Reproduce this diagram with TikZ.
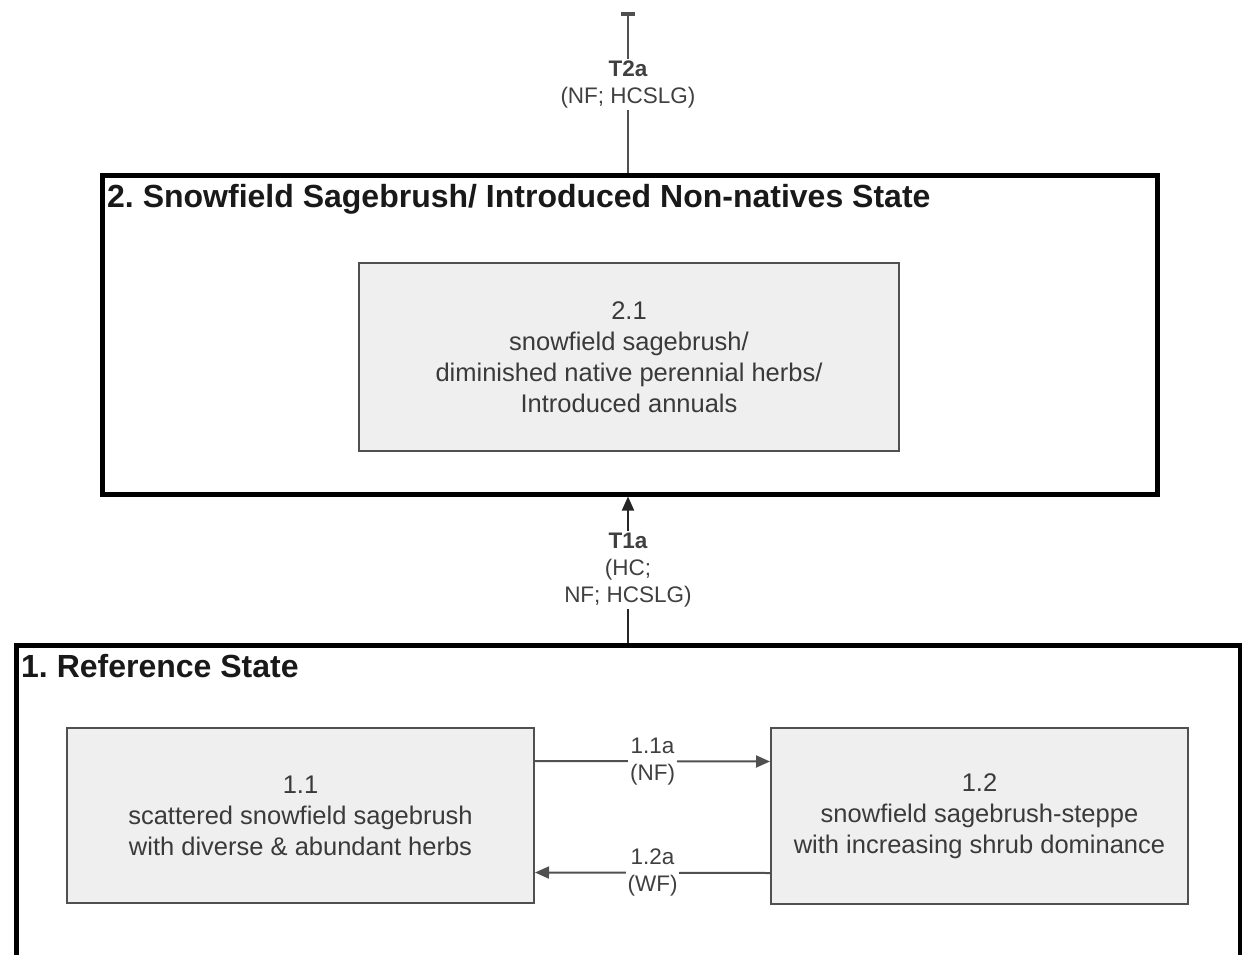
\documentclass[tikz,border=0pt]{standalone}
\usepackage{fontspec}
\setmainfont{Liberation Sans}
\usetikzlibrary{arrows.meta}
\frenchspacing
\definecolor{phasefill}{HTML}{EFEFEF}
\definecolor{phaseline}{HTML}{505050}
\definecolor{txtgray}{HTML}{3A3A3A}
\definecolor{lblgray}{HTML}{404040}
\tikzset{
  statebox/.style={draw=black, line width=4.5pt, minimum width=#1, anchor=north west, inner sep=0pt},
  phasebox/.style={draw=phaseline, fill=phasefill, line width=2pt, anchor=north west, inner sep=0pt,
     align=center, text=txtgray, font=\fontsize{25.5}{31}\selectfont},
  statetitle/.style={anchor=north west, inner sep=0pt, font=\fontsize{32}{36}\selectfont\bfseries, text=black!90},
  conn/.style={draw=phaseline, line width=2pt},
  lbl/.style={fill=white, align=center, text=lblgray, font=\fontsize{22.5}{27}\selectfont, inner sep=2pt},
}
\begin{document}
\begin{tikzpicture}[x=1pt,y=-1pt]
\useasboundingbox (0,0) rectangle (1242,955);
% state 2
\node[statebox=1055pt, minimum height=319pt] (s2) at (100,173) {};
\node[statetitle] (s2t) at (107,184) {2. Snowfield Sagebrush/ Introduced Non-natives State};
\node[phasebox, minimum width=540pt, minimum height=188pt] (p21) at (358,262)
  {2.1\\snowfield sagebrush/\\diminished native perennial herbs/\\Introduced annuals};
% state 1
\node[statebox=1224pt, minimum height=330pt] (s1) at (14,643) {};
\node[statetitle] (s1t) at (21,654) {1. Reference State};
\node[phasebox, minimum width=467pt, minimum height=175pt] (p11) at (66,727)
  {1.1\\scattered snowfield sagebrush\\with diverse \& abundant herbs};
\node[phasebox, minimum width=417pt, minimum height=176pt] (p12) at (770,727)
  {1.2\\snowfield sagebrush-steppe\\with increasing shrub dominance};
% top transition
\coordinate (topend) at (628,12);
\draw[conn, -{Bar[width=14pt,line width=4pt]}] (s2.north -| topend) -- (topend)
  node[lbl, pos=0.55] (t2a) {\textbf{T2a}\\(NF; HCSLG)};
% T1a
\draw[conn, -{Triangle[length=14pt,width=12pt]}, draw=black!85] (s1.north -| topend) -- (s2.south -| topend)
  node[lbl, midway] (t1a) {\textbf{T1a}\\(HC;\\NF; HCSLG)};
% phase transitions
\draw[conn, -{Triangle[length=14pt,width=12pt]}] ([yshift=54.5pt]p11.east) -- ([yshift=54.5pt]p12.west)
  node[lbl, midway] (a11) {1.1a\\(NF)};
\draw[conn, -{Triangle[length=14pt,width=12pt]}] ([yshift=-57pt]p12.west) -- ([yshift=-57pt]p11.east)
  node[lbl, midway] (a12) {1.2a\\(WF)};
\end{tikzpicture}
\end{document}
